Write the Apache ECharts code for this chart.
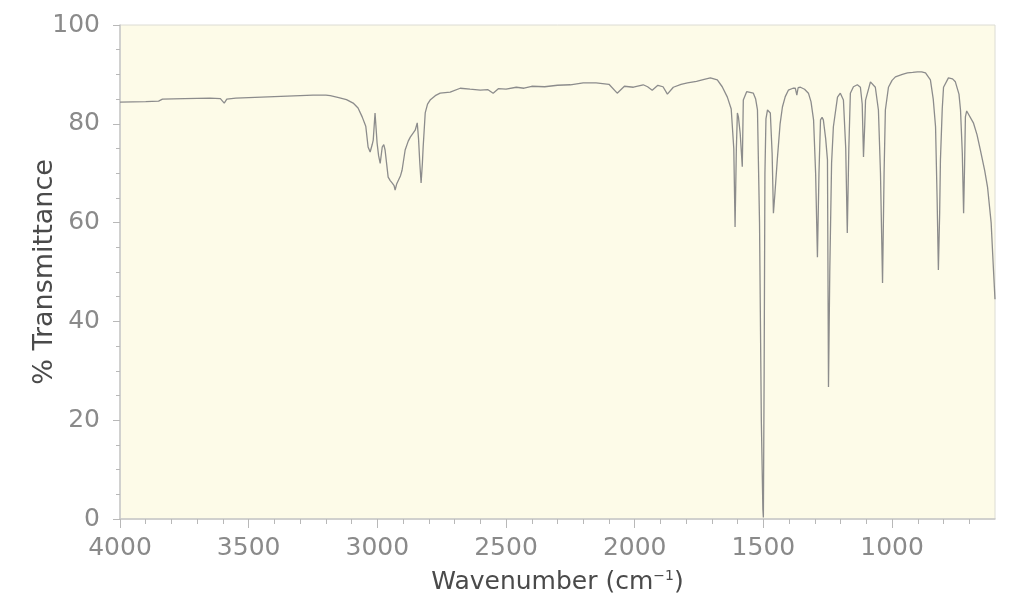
<!DOCTYPE html>
<html>
<head>
<meta charset="utf-8">
<script src="https://cdn.jsdelivr.net/npm/echarts@6/dist/echarts.min.js"></script>
<style>html,body{margin:0;padding:0;background:#fff;}#c{width:1024px;height:601px;}</style>
</head>
<body>
<div id="c"></div>
<script>
const wavenumber = [4000,3900,3850,3835,3750,3650,3610,3595,3585,3550,3450,3350,3250,3200,3183,3150,3120,3094,3075,3059,3045,3036,3028,3020,3016,3009,3001,2995,2989,2981,2975,2970,2958,2950,2942,2935,2931,2925,2919,2910,2904,2892,2880,2872,2853,2845,2840,2835,2830,2825,2822,2814,2805,2795,2775,2756,2717,2678,2640,2600,2570,2550,2530,2500,2460,2430,2400,2350,2300,2250,2200,2150,2100,2068,2040,2005,1967,1950,1932,1910,1890,1873,1850,1820,1795,1760,1730,1706,1679,1660,1640,1625,1615,1610,1605,1601,1597,1590,1582,1578,1565,1558,1539,1530,1523,1515,1508,1502,1500,1497,1494,1490,1484,1473,1466,1461,1455,1446,1435,1426,1415,1403,1385,1376,1370,1365,1356,1340,1325,1315,1305,1297,1290,1284,1278,1272,1267,1258,1251,1247,1242,1235,1228,1212,1201,1189,1180,1174,1168,1162,1150,1135,1123,1116,1111,1106,1103,1084,1065,1053,1045,1037,1031,1026,1014,1000,987,960,940,920,901,885,870,851,840,831,825,820,815,812,805,800,781,765,754,740,734,727,722,718,715,710,703,684,670,657,640,629,615,606,600];
const transmittance = [84.4,84.5,84.6,85.0,85.1,85.2,85.1,84.2,85.0,85.2,85.4,85.6,85.8,85.8,85.7,85.3,84.9,84.2,83.2,81.4,79.5,75.3,74.3,75.8,76.7,82.2,76.1,73.5,72.0,75.3,75.8,74.7,69.2,68.5,68.0,67.5,66.6,67.8,68.0,69.5,70.6,74.7,76.5,77.3,78.7,80.2,77,72,68.0,72,75.3,82.2,84.0,84.8,85.7,86.2,86.4,87.2,87.0,86.8,86.9,86.2,87.1,87.0,87.4,87.2,87.6,87.5,87.8,87.9,88.3,88.3,88.0,86.2,87.6,87.4,87.9,87.5,86.8,87.8,87.5,86.0,87.4,88.0,88.3,88.6,89.0,89.3,88.9,87.5,85.4,83,75,59.1,75,82.2,81.4,78,71.3,84.8,86.5,86.8,86.2,85,82.8,60,20,2,0.3,30,70,81,82.8,82.2,74,61.9,66,72.7,80,83.4,85.5,86.8,87.2,87.2,85.8,87.3,87.4,87.0,86.2,84.5,80.8,70,53,70,80.8,81.3,80.8,77,72.7,26.7,50,72,79.4,85.4,86.2,84.8,75,57.9,75,86.2,87.5,87.9,87.4,84,73.3,80,84.8,88.5,87.4,82.8,70,47.8,70,82.8,87.4,88.8,89.5,90.0,90.3,90.4,90.5,90.5,90.3,88.9,85,79.4,65,50.4,62,72.7,83,87.4,89.3,89.1,88.5,86,82.8,74,61.9,72,81.4,82.6,82.4,80.2,77.8,74.7,70.5,67.2,60,50.5,44.5];
const xMajorTicks = [4000,3500,3000,2500,2000,1500,1000];
const xMinorTicks = [3900,3800,3700,3600,3400,3300,3200,3100,2900,2800,2700,2600,2400,2300,2200,2100,1900,1800,1700,1600,1400,1300,1200,1100,900,800,700];

const data = wavenumber.map((w, i) => [w, transmittance[i]]);
const font = 'DejaVu Sans, sans-serif';
const chart = echarts.init(document.getElementById('c'));
chart.setOption({
  animation: false,
  grid: {left: 120, right: 29, top: 25, bottom: 82, show: true, backgroundColor: '#fdfbe8', borderColor: '#dcdcd4', borderWidth: 1},
  xAxis: [{
    type: 'value', inverse: true, min: 600, max: 4000, position: 'bottom',
    name: 'Wavenumber (cm{sup|−1})', nameLocation: 'middle', nameGap: 50, nameMoveOverlap: false,
    nameTextStyle: {fontFamily: font, fontSize: 25, color: '#4a4a4a',
      rich: {sup: {fontFamily: font, fontSize: 14, color: '#4a4a4a', verticalAlign: 'top', padding: [0, 0, 12, 0]}}},
    axisLine: {show: true, lineStyle: {color: '#c8c8c8', width: 1.5}},
    axisTick: {show: true, length: 9, customValues: xMajorTicks, lineStyle: {color: '#b8b8b8'}},
    axisLabel: {customValues: xMajorTicks, margin: 17, fontFamily: font, fontSize: 25, color: '#8a8a8a', formatter: v => String(v)},
    splitLine: {show: false}
  }, {
    type: 'value', inverse: true, min: 600, max: 4000, position: 'bottom', gridIndex: 0,
    axisLine: {show: false},
    axisTick: {show: true, length: 5, customValues: xMinorTicks, lineStyle: {color: '#b8b8b8'}},
    axisLabel: {show: false},
    splitLine: {show: false}
  }],
  yAxis: {
    type: 'value', min: 0, max: 100, interval: 20,
    name: '% Transmittance', nameLocation: 'middle', nameGap: 62, nameMoveOverlap: false,
    nameTextStyle: {fontFamily: font, fontSize: 27, color: '#4a4a4a'},
    axisLine: {show: true, lineStyle: {color: '#c8c8c8', width: 1.5}},
    axisTick: {show: true, length: 7, lineStyle: {color: '#b8b8b8'}},
    minorTick: {show: true, splitNumber: 4, length: 4, lineStyle: {color: '#b8b8b8'}},
    axisLabel: {margin: 20, fontFamily: font, fontSize: 25, color: '#8a8a8a', formatter: v => String(v)},
    splitLine: {show: false}
  },
  series: [{
    type: 'line', data: data, showSymbol: false, symbol: 'none',
    lineStyle: {color: '#8c8c8c', width: 1.3}
  }]
});
</script>
</body>
</html>
